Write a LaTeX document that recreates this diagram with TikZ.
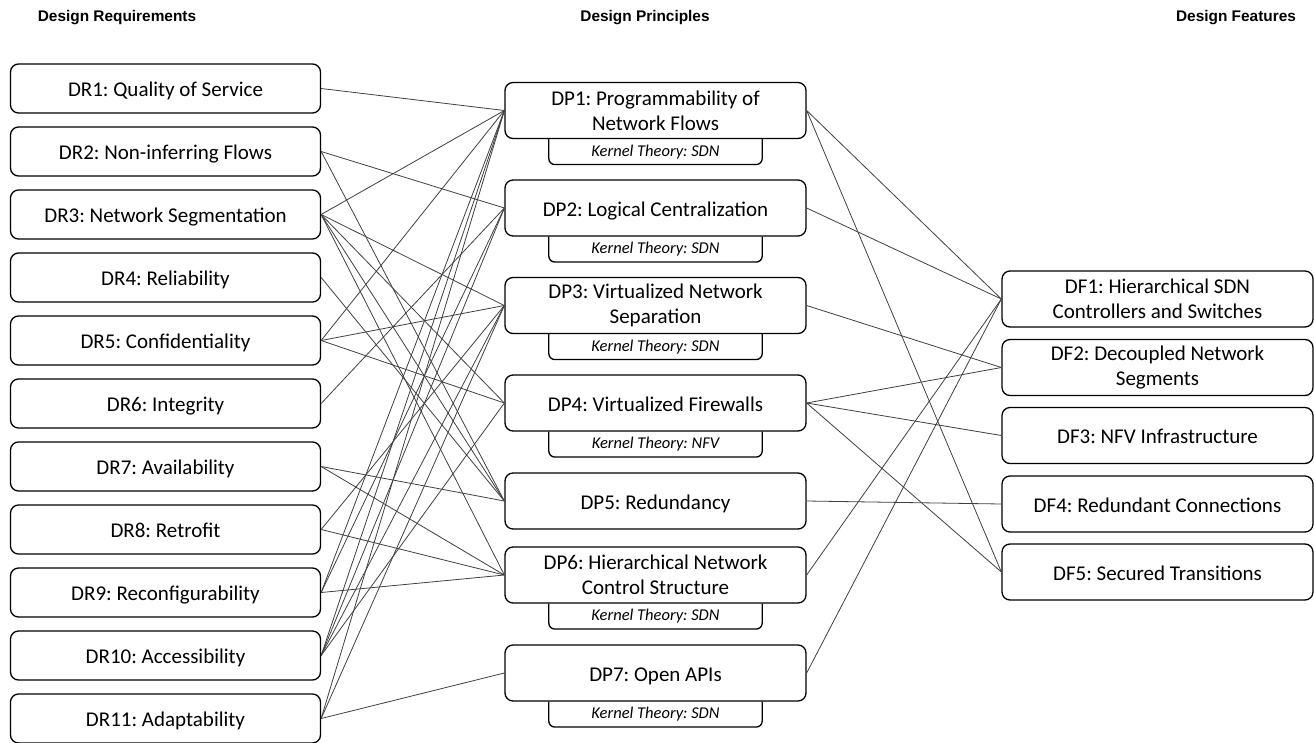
\documentclass[tikz,border=0pt]{standalone}
\usepackage{fontspec}
\setmainfont{Carlito}
\newfontfamily\headfont{Liberation Sans}
\usetikzlibrary{positioning}
\frenchspacing
\tikzset{
  box/.style={draw, fill=white, line width=1.3pt, rounded corners=8pt, inner sep=0pt, align=center, font=\fontsize{21}{25}\selectfont},
  req/.style={box, minimum width=310pt, minimum height=49pt},
  prin/.style={box, minimum width=301pt, minimum height=56pt},
  feat/.style={box, minimum width=311pt, minimum height=56pt},
  oneline/.style={text height=20pt, text depth=4pt},
  kern/.style={minimum width=213pt, minimum height=25pt, inner sep=0pt, font=\fontsize{16.5}{19}\selectfont\itshape},
  kernbox/.style={draw, line width=1.3pt, rounded corners=6pt},
  head/.style={font=\headfont\bfseries\fontsize{15.4}{18}\selectfont},
  link/.style={draw=black!75, line width=0.8pt}
}
\begin{document}
\begin{tikzpicture}[x=1pt, y=-1pt]
  \useasboundingbox (0,0) rectangle (1314,742);
  % headers
  \node[head] (hreq) at (117,18) {Design Requirements};
  \node[head] (hprin) at (645,18) {Design Principles};
  \node[head] (hfeat) at (1236,18) {Design Features};
  % requirements
  \foreach \i/\t in {1/Quality of Service, 2/Non-inferring Flows, 3/Network Segmentation,
      4/Reliability, 5/Confidentiality, 6/Integrity, 7/Availability, 8/Retrofit,
      9/Reconfigurability, 10/Accessibility, 11/Adaptability}
    \node[req, oneline] (dr\i) at (165.5,{88.5+63*(\i-1)}) {DR\i: \t};
  % principles
  \node[prin] (dp1) at (655.5,110.5) {DP1: Programmability of\\Network Flows};
  \node[prin, oneline] (dp2) at (655.5,208) {DP2: Logical Centralization};
  \node[prin] (dp3) at (655.5,305.5) {DP3: Virtualized Network\\Separation};
  \node[prin, oneline] (dp4) at (655.5,403) {DP4: Virtualized Firewalls};
  \node[prin, oneline] (dp5) at (655.5,501) {DP5: Redundancy};
  \node[prin] (dp6) at (655.5,575) {DP6: Hierarchical Network\\Control Structure};
  \node[prin, oneline] (dp7) at (655.5,673) {DP7: Open APIs};
  % kernel theories
  \foreach \i/\t in {1/SDN, 2/SDN, 3/SDN/VLANs, 4/NFV, 6/SDN, 7/SDN} {
    \node[kern, below=0pt of dp\i] (kt\i) {Kernel Theory: \t};
    \draw[kernbox] (kt\i.north west) -- (kt\i.south west) -- (kt\i.south east) -- (kt\i.north east);
  }
  % features
  \node[feat] (df1) at (1157.5,299) {DF1: Hierarchical SDN\\Controllers and Switches};
  \node[feat] (df2) at (1157.5,367.5) {DF2: Decoupled Network\\Segments};
  \node[feat, oneline] (df3) at (1157.5,435.5) {DF3: NFV Infrastructure};
  \node[feat, oneline] (df4) at (1157.5,504) {DF4: Redundant Connections};
  \node[feat, oneline] (df5) at (1157.5,572) {DF5: Secured Transitions};
  % requirements to principles
  \foreach \a/\b in {1/1, 2/2, 2/5, 3/1, 3/3, 3/4, 3/5, 3/6, 4/5, 5/1, 5/3, 5/4, 6/2,
      7/5, 7/6, 8/3, 8/6, 9/1, 9/2, 9/6, 10/1, 10/2, 10/3, 10/4, 11/1, 11/3, 11/7}
    \draw[link] (dr\a.east) -- (dp\b.west);
  % principles to features
  \foreach \a/\b in {1/1, 1/5, 2/1, 3/2, 4/2, 4/3, 4/5, 5/4, 6/1, 7/1}
    \draw[link] (dp\a.east) -- (df\b.west);
\end{tikzpicture}
\end{document}
